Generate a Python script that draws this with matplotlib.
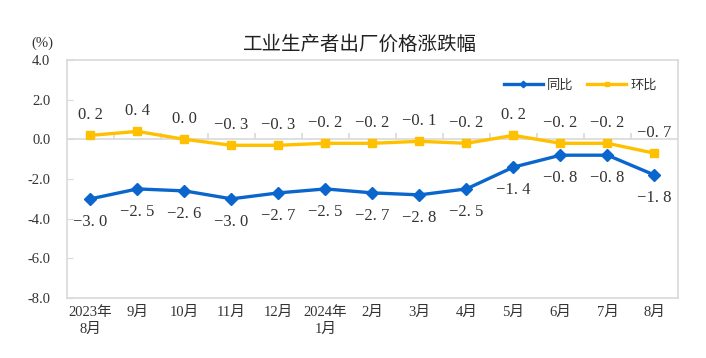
import numpy as np
import matplotlib.pyplot as plt

months = ['2023年\n8月', '9月', '10月', '11月', '12月', '2024年\n1月', '2月',
          '3月', '4月', '5月', '6月', '7月', '8月']
yoy = [-3.0, -2.5, -2.6, -3.0, -2.7, -2.5, -2.7, -2.8, -2.5, -1.4, -0.8, -0.8, -1.8]
mom = [0.2, 0.4, 0.0, -0.3, -0.3, -0.2, -0.2, -0.1, -0.2, 0.2, -0.2, -0.2, -0.7]
yticks = [4.0, 2.0, 0.0, -2.0, -4.0, -6.0, -8.0]

blue = '#0A66CC'
yellow = '#FFC000'
grey = '#D9D9D9'
serif_cjk = ['Liberation Serif', 'Noto Sans CJK SC']

plt.rcParams['font.family'] = ['Noto Sans CJK SC', 'DejaVu Sans']

fig = plt.figure(figsize=(7.06, 3.58), dpi=100)
ax = fig.add_axes([0.0949, 0.1676, 0.8654, 0.6648])
x = np.arange(len(months))

ax.plot(x, yoy, color=blue, lw=2.4, marker='D', ms=6, label='同比', zorder=3)
ax.plot(x, mom, color=yellow, lw=2.4, marker='s', ms=6, label='环比', zorder=3)

def fmt(v):
    return f'{v:.1f}'.replace('-', '−').replace('.', '. ')

for xi, v in zip(x, yoy):
    ax.annotate(fmt(v), (xi, v), xytext=(0, -16.5), textcoords='offset points',
                ha='center', va='center', fontsize=12, color='#333333',
                family='Liberation Serif')
for xi, v in zip(x, mom):
    ax.annotate(fmt(v), (xi, v), xytext=(0, 14.5), textcoords='offset points',
                ha='center', va='center', fontsize=12, color='#333333',
                family='Liberation Serif')

ax.set_xlim(-0.5, len(months) - 0.5)
ax.set_ylim(-8, 4)
ax.set_yticks(yticks)
ax.set_yticklabels([f'{t:.1f}' for t in yticks], family='Liberation Serif',
                   fontsize=10.5, color='#333333')
ax.set_xticks(x)
ax.set_xticklabels(months, family=serif_cjk, fontsize=10.5, color='#333333',
                   linespacing=1.3)
ax.tick_params(axis='x', length=0, pad=6)
ax.tick_params(axis='y', direction='in', length=4, color=grey, pad=12)

for s in ax.spines.values():
    s.set_color(grey)
    s.set_linewidth(1.2)

ax.axhline(0, color=grey, lw=1.2, zorder=1)
zero = ax.secondary_xaxis(2 / 3)
zero.set_xticks(np.arange(0.5, len(months) - 1, 1))
zero.set_xticklabels([])
zero.tick_params(length=4, color=grey, width=1.2)
zero.spines['top'].set_visible(False)
zero.spines['bottom'].set_visible(False)

leg = ax.legend(loc='upper right', ncol=2, frameon=False, fontsize=9.5,
                bbox_to_anchor=(0.985, 0.97), handlelength=3.0,
                columnspacing=1.0, handletextpad=0.3, markerscale=0.55)
for t in leg.get_texts():
    t.set_color('#333333')

fig.text(0.51, 0.875, '工业生产者出厂价格涨跌幅', ha='center', va='center',
         fontsize=14, color='#222222')
fig.text(0.06, 0.88, '(%)', ha='center', va='center', fontsize=10.5,
         family='Liberation Serif', color='#333333')

fig.savefig('out.png', dpi=100)
